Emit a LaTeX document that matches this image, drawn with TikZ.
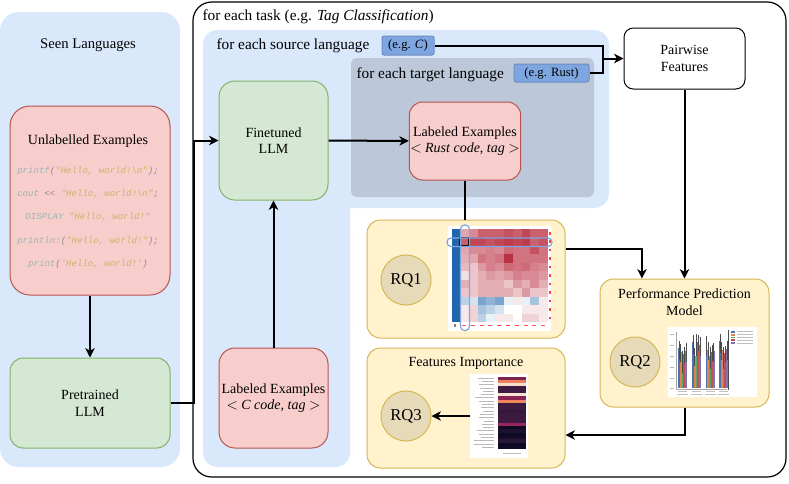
\documentclass[tikz,border=0pt]{standalone}
\usepackage{fontspec}
\setmainfont{Liberation Serif}
\newfontfamily\codefont{Liberation Mono}[Ligatures=TeXOff]
\usetikzlibrary{arrows.meta}

\definecolor{panelblue}{HTML}{DAE8FC}
\definecolor{tagfill}{HTML}{7EA6E0}
\definecolor{tagdraw}{HTML}{6C8EBF}
\definecolor{targetgray}{HTML}{BCC8DA}
\definecolor{redfill}{HTML}{F8CECC}
\definecolor{reddraw}{HTML}{B85450}
\definecolor{greenfill}{HTML}{D5E8D4}
\definecolor{greendraw}{HTML}{82B366}
\definecolor{yelfill}{HTML}{FFF2CC}
\definecolor{yeldraw}{HTML}{D6B656}
\definecolor{rqfill}{HTML}{E7DAB8}
\definecolor{codekw}{HTML}{9DB5AE}
\definecolor{codestr}{HTML}{C9B36B}
\definecolor{codepun}{HTML}{8C8C8C}
\definecolor{hmpos}{HTML}{B2182B}
\definecolor{hmneg}{HTML}{2166AC}
\definecolor{barblue}{HTML}{4C72B0}
\definecolor{barorange}{HTML}{DD8452}
\definecolor{bargreen}{HTML}{55A868}
\definecolor{barred}{HTML}{C44E52}
\definecolor{barpurple}{HTML}{8172B3}

\newcommand{\ckw}[1]{\textcolor{codekw}{#1}}
\newcommand{\cstr}[1]{\textcolor{codestr}{#1}}
\newcommand{\cpun}[1]{\textcolor{codepun}{#1}}

\tikzset{every picture/.style={line width=0.75pt}}
\tikzset{
  lbl/.style={inner sep=0.75pt,font=\fontsize{10.5}{12.5}\selectfont,align=center},
  headlbl/.style={anchor=west,inner sep=0.75pt,font=\fontsize{11.5}{13}\selectfont},
  codeline/.style={inner sep=0.75pt,font=\codefont\itshape\fontsize{6.8}{8}\selectfont},
  redbox/.style={lbl,draw=reddraw,fill=redfill,rounded corners=10pt},
  greenbox/.style={lbl,draw=greendraw,fill=greenfill,rounded corners=10pt},
  yelbox/.style={draw=yeldraw,fill=yelfill,rounded corners=10pt},
  tagbox/.style={draw=tagdraw,fill=tagfill,rounded corners=1.5pt,inner sep=0pt,font=\fontsize{9.5}{11}\selectfont},
  rqnode/.style={circle,draw=yeldraw,fill=rqfill,inner sep=0pt,minimum size=37.5pt,font=\fontsize{12.5}{14}\selectfont},
  imgnode/.style={fill=white,inner sep=0pt},
  conn/.style={line width=1.5pt},
  arr/.style={conn,-{Stealth[length=7pt,width=7pt,inset=2pt]}},
}

\begin{document}
\begin{tikzpicture}[x=0.75pt,y=0.75pt,yscale=-1,xscale=1]
\useasboundingbox (0,0) rectangle (789,483);

%Panels
\fill[panelblue,rounded corners=14pt] (0,12) rectangle (180,467);
\draw[line width=0.9pt,rounded corners=14pt] (193,2) rectangle (786,477);
\fill[panelblue,rounded corners=11pt] (203,30) rectangle (609,208);
\fill[panelblue,rounded corners=11pt] (203,30) rectangle (350,467);
\fill[targetgray,rounded corners=4pt] (351,58) rectangle (594,197);

% Text Node
\node[lbl,font=\fontsize{11}{13}\selectfont] (seen) at (88,45) {Seen Languages};
\node[headlbl] (tasklbl) at (201,17) {for each task (e.g. \textit{Tag Classification})};
\node[headlbl] (srclbl) at (215,46) {for each source language};
\node[headlbl] (tgtlbl) at (355,75) {for each target language};
\node[tagbox,minimum width=39pt,minimum height=14.25pt] (egc) at (408,45.5) {(e.g. \textit{C})};
\node[tagbox,minimum width=56.25pt,minimum height=13.5pt] (egrust) at (551.5,73) {(e.g. Rust)};

%Unlabelled examples
\node[redbox,minimum width=120pt,minimum height=141.75pt,rounded corners=15pt] (unlab) at (90,200.5) {};
\node[lbl] (unlabtitle) at (88,141) {Unlabelled Examples};
\node[codeline] (code1) at (88,171) {\ckw{printf}\cpun{(}\cstr{"Hello, world!\textbackslash n"}\cpun{);}};
\node[codeline] (code2) at (88,194) {\ckw{cout} \cpun{<<} \cstr{"Hello, world!\textbackslash n"}\cpun{;}};
\node[codeline] (code3) at (88,217) {\ckw{DISPLAY} \cstr{"Hello, world!"}};
\node[codeline] (code4) at (88,241) {\ckw{println!}\cpun{(}\cstr{"Hello, world!"}\cpun{);}};
\node[codeline] (code5) at (88,264) {\ckw{print}\cpun{(}\cstr{'Hello, world!'}\cpun{)}};

%LLMs and labeled examples
\node[greenbox,minimum width=120pt,minimum height=67.5pt] (pretrained) at (90,403) {Pretrained\\LLM};
\node[greenbox,minimum width=81.75pt,minimum height=89.25pt,rounded corners=12pt] (finetuned) at (273.5,140.5) {Finetuned\\LLM};
\node[redbox,minimum width=82.5pt,minimum height=58.5pt] (labrust) at (465,141) {Labeled Examples\\$<$ \textit{Rust code, tag} $>$};
\node[redbox,minimum width=81.75pt,minimum height=75pt,rounded corners=12pt] (labc) at (273.5,398) {Labeled Examples\\$<$ \textit{C code, tag} $>$};
\node[lbl,draw,rounded corners=7pt,minimum width=90.75pt,minimum height=45.75pt] (pairwise) at (684.5,58.5) {Pairwise\\Features};

%RQ boxes
\node[yelbox,minimum width=148.5pt,minimum height=88.5pt] (rq1box) at (466,279) {};
\node[yelbox,minimum width=148.5pt,minimum height=90pt] (fibox) at (466,408) {};
\node[yelbox,minimum width=126.75pt,minimum height=96pt] (perf) at (684.5,343) {};
\node[lbl] (fititle) at (466,363) {Features Importance};
\node[lbl] (perftitle) at (684.5,302) {Performance Prediction\\Model};
\node[rqnode] (rq1) at (406,280) {RQ1};
\node[rqnode] (rq2) at (635,362) {RQ2};
\node[rqnode] (rq3) at (406,416) {RQ3};

%Heatmap
\node[imgnode,minimum width=77.25pt,minimum height=78.75pt] (hmap) at (499.5,278.5) {};
\foreach \rowvals [count=\r from 0] in {
  {0.4,0.5,0.7,0.7,0.7,0.75,0.7,0.8,0.7,0.7},
  {0.7,0.8,0.8,0.75,0.8,0.85,0.8,0.85,0.7,0.75},
  {0.4,0.5,0.5,0.55,0.5,0.65,0.6,0.6,0.75,0.6},
  {0.35,0.4,0.6,0.55,0.6,0.9,0.6,0.6,0.6,0.6},
  {0.3,0.25,0.45,0.55,0.5,0.65,0.6,0.65,0.55,0.5},
  {0.15,0.25,0.35,0.45,0.4,0.45,0.55,0.5,0.5,0.45},
  {0.35,0.25,0.35,0.35,0.35,0.25,0.45,0.35,0.5,0.35},
  {0.25,0.25,0.35,0.35,0.35,0.35,0.25,0.45,0.25,0.25},
  {-0.3,-0.2,-0.6,-0.5,-0.6,-0.1,0.1,-0.1,-0.4,0.1},
  {0.1,0.2,-0.4,-0.3,-0.2,0.0,0.0,0.1,0.1,0.1},
  {0.1,0.2,-0.3,-0.1,0.1,0.1,0.0,0.2,0.2,0.1}} {
  \fill[hmneg] (451.5,229+\r*8.45) rectangle ++(8,8.45);
  \fill[red!75] (549,232+\r*8.45) rectangle ++(1.5,2.5);
  \foreach \v [count=\c] in \rowvals {
    \pgfmathtruncatemacro\pc{min(100,abs(\v)*100)}
    \pgfmathtruncatemacro\isneg{\v<0?1:0}
    \ifnum\isneg=1 \def\hc{hmneg}\else\def\hc{hmpos}\fi
    \fill[\hc!\pc!white] (460+\c*8.8-8.8,229+\r*8.45) rectangle ++(8.8,8.45);
  }
}
\foreach \c in {1,...,10} \fill[red!70] (462+\c*8.8-8.8,325) rectangle ++(4,1.2);
\fill[gray] (454,324) rectangle ++(2,3);
\draw[black,line width=0.8pt] (460,237.45) rectangle ++(8.8,8.45);
\draw[tagfill,line width=0.9pt,rounded corners=3pt] (460.5,225) rectangle (469.5,330.5);
\draw[tagfill,line width=0.9pt,rounded corners=3pt] (447,238) rectangle (552,246.5);

%Bar chart
\node[imgnode,minimum width=66.75pt,minimum height=52.5pt] (bchart) at (712.5,362) {};
\draw[gray!70,line width=0.3pt] (676,332) -- (676,389) -- (727,389);
\foreach \yy in {334,345,356,367,378,388} \fill[gray!55] (670,\yy) rectangle ++(4,0.9);
\foreach \gx/\ta/\tb/\tc/\td/\te in {678/348/352/360/354/351,692/342/356/343/342/345,705.5/343/350/356/352/351,719/341/350/356/353/349} {
  \fill[barblue] (\gx,\ta) rectangle (\gx+1.8,388);
  \fill[barorange] (\gx+1.8,\tb) rectangle (\gx+3.6,388);
  \fill[bargreen] (\gx+3.6,\tc) rectangle (\gx+5.4,388);
  \fill[barred] (\gx+5.4,\td) rectangle (\gx+7.2,388);
  \fill[barpurple] (\gx+7.2,\te) rectangle (\gx+9,388);
  \draw[gray!60!black,line width=0.4pt] (\gx+0.9,\ta-7) -- (\gx+0.9,\ta+12) (\gx+2.7,\tb-8) -- (\gx+2.7,\tb+10) (\gx+4.5,\tc-9) -- (\gx+4.5,\tc+13) (\gx+6.3,\td-7) -- (\gx+6.3,\td+9) (\gx+8.1,\te-8) -- (\gx+8.1,\te+11);
  \fill[gray!50] (\gx,391) rectangle ++(9,0.9);
  \fill[gray!50] (\gx-1,394) rectangle ++(11,0.9);
}
\draw[gray!60!black,line width=0.5pt] (728.5,330) -- (728.5,390);
\foreach \cc [count=\i from 0] in {barblue,barorange,bargreen,barred,barpurple} {
  \fill[\cc] (731,331+\i*2.8) rectangle ++(4,1.8);
  \fill[gray!50] (736.5,331.4+\i*2.8) rectangle ++(16,0.9);
}

%Feature importance chart
\node[imgnode,minimum width=43.5pt,minimum height=63pt] (fimg) at (499,416) {};
\foreach \cc/\w [count=\i from 0] in {7B2150/16,EF7E5E/12,F9DCC8/15,3B1C40/14,3D1B42/11,F6E3D2/13,8B2355/19,F3845E/15,3A1A3E/12,3D1B42/13,341838/11,3B1C40/14,3A1A3E/15,3D1B42/10,9C2458/12,0F0A24/11,1A1030/17,0F0A24/15,140C2A/13,2A1638/20,0F0A24/20,120B26/12} {
  \definecolor{stripe}{HTML}{\cc}
  \fill[stripe] (497.5,376.5+\i*3.3) rectangle ++(28.5,3.3);
  \fill[gray!55] (494-\w,377.6+\i*3.3) rectangle (494,378.5+\i*3.3);
}
\fill[gray!55] (503,453) rectangle ++(18,0.9);

%Connectors
\draw[arr] (unlab) -- (pretrained);
\draw[arr] (pretrained.east) -- ++(17.25pt,0) |- (finetuned.west);
\draw[arr] (labc) -- (finetuned);
\draw[arr] (finetuned) -- (labrust);
\coordinate (merge) at (603,58.5);
\draw[arr] (egc.east) -| (merge) -- (pairwise.west);
\draw[conn] (egrust.east) -| (merge);
\draw[conn] (labrust.south) -- (labrust.south |- rq1box.north);
\draw[arr] ([yshift=-22.5pt]rq1box.east) -| ([xshift=-31.9pt]perf.north);
\draw[arr] (pairwise) -- (perf);
\draw[arr] (perf.south) |- ([yshift=20.25pt]fibox.east);
\draw[arr] (fimg.west) -- (rq3.east);

\end{tikzpicture}
\end{document}
